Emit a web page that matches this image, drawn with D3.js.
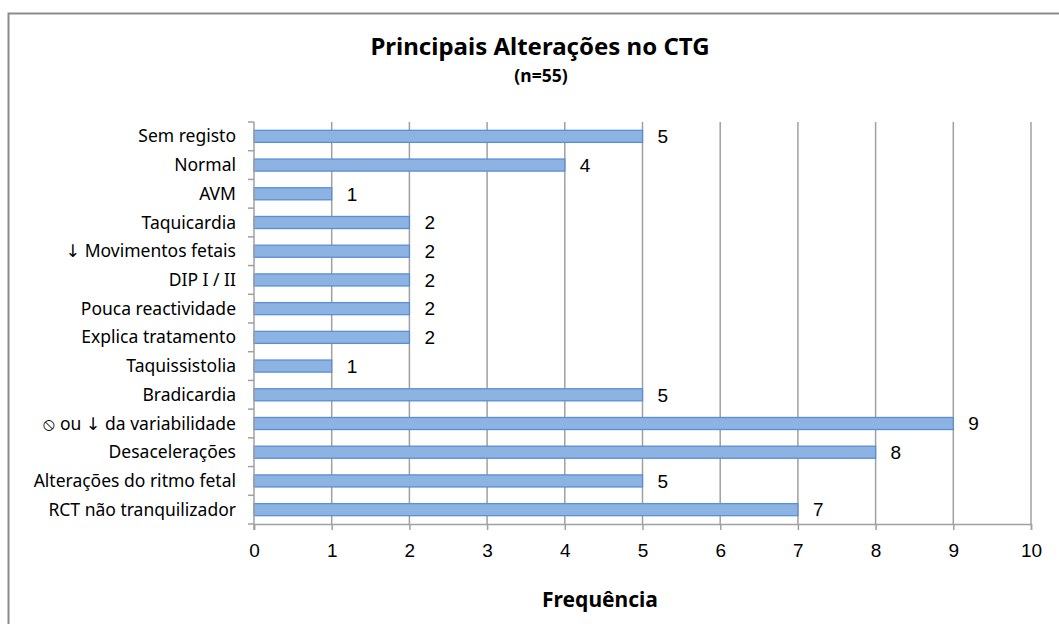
<!DOCTYPE html>
<html>
<head>
<meta charset="utf-8">
<script src="https://cdn.jsdelivr.net/npm/d3@7"></script>
<style>
  html, body { margin: 0; padding: 0; background: #fff; }
  svg { display: block; }
</style>
</head>
<body>
<svg id="chart" width="1059" height="624"></svg>
<script>
// Categories listed top to bottom, with their frequencies
const categories = [
  "Sem registo",
  "Normal",
  "AVM",
  "Taquicardia",
  "↓ Movimentos fetais",
  "DIP I / II",
  "Pouca reactividade",
  "Explica tratamento",
  "Taquissistolia",
  "Bradicardia",
  "⦸ ou ↓ da variabilidade",
  "Desacelerações",
  "Alterações do ritmo fetal",
  "RCT não tranquilizador"
];
const frequencies = [5, 4, 1, 2, 2, 2, 2, 2, 1, 5, 9, 8, 5, 7];
const xTicks = [0, 1, 2, 3, 4, 5, 6, 7, 8, 9, 10];

const titleText = "Principais Alterações no CTG";
const subtitleText = "(n=55)";
const xAxisTitle = "Frequência";

const svg = d3.select("#chart");
const labelFont = "'Noto Sans', 'DejaVu Sans', sans-serif";
const numFont = "'Liberation Sans', Arial, sans-serif";

const plot = { left: 254, right: 1031, top: 122, bottom: 524 };

// Outer frame (only top and left edges fall inside the page)
svg.append("rect")
  .attr("x", 8.5).attr("y", 13.5)
  .attr("width", 1100).attr("height", 700)
  .attr("fill", "none").attr("stroke", "#8c8c8c").attr("stroke-width", 2);

const x = d3.scaleLinear().domain([0, 10]).range([plot.left, plot.right]);
const y = d3.scaleBand().domain(categories).range([plot.top, plot.bottom]).paddingInner(0.58).paddingOuter(0.29);
const yStep = d3.scaleBand().domain(categories).range([plot.top, plot.bottom]);

// Vertical gridlines
svg.append("g").selectAll("line").data(xTicks.slice(1)).join("line")
  .attr("x1", d => x(d)).attr("x2", d => x(d))
  .attr("y1", plot.top).attr("y2", plot.bottom)
  .attr("stroke", "#a0a0a0").attr("stroke-width", 1.5);

// Bars
svg.append("g").selectAll("rect").data(categories).join("rect")
  .attr("x", x(0))
  .attr("y", d => y(d))
  .attr("width", (d, i) => x(frequencies[i]) - x(0))
  .attr("height", y.bandwidth())
  .attr("fill", "#8db3e2")
  .attr("stroke", "#5a8ed6")
  .attr("stroke-width", 1.3);

// Value labels
svg.append("g").selectAll("text").data(categories).join("text")
  .attr("x", (d, i) => x(frequencies[i]) + 15)
  .attr("y", d => y(d) + y.bandwidth() / 2)
  .attr("dy", "0.36em")
  .attr("font-family", numFont)
  .attr("font-size", 19)
  .attr("fill", "#000")
  .text((d, i) => frequencies[i]);

// X axis
const xAxis = d3.axisBottom(x).tickValues(xTicks).tickSize(6).tickPadding(14).tickFormat(d3.format("d"));
const gx = svg.append("g").attr("transform", `translate(0,${plot.bottom})`).call(xAxis);
gx.select(".domain").attr("stroke", "#a0a0a0").attr("stroke-width", 1.5);
gx.selectAll(".tick line").attr("stroke", "#a0a0a0").attr("stroke-width", 1.5);
gx.selectAll(".tick text").attr("font-family", numFont).attr("font-size", 19).attr("fill", "#000");

// Y axis line with ticks between categories
const gy = svg.append("g");
gy.append("line")
  .attr("x1", plot.left).attr("x2", plot.left)
  .attr("y1", plot.top).attr("y2", plot.bottom + 6)
  .attr("stroke", "#a0a0a0").attr("stroke-width", 1.5);
const boundaries = categories.map(c => yStep(c)).concat([plot.bottom]);
gy.selectAll("line.tk").data(boundaries).join("line")
  .attr("class", "tk")
  .attr("x1", plot.left - 6).attr("x2", plot.left)
  .attr("y1", d => d).attr("y2", d => d)
  .attr("stroke", "#a0a0a0").attr("stroke-width", 1.5);

// Category labels
svg.append("g").selectAll("text").data(categories).join("text")
  .attr("x", plot.left - 18)
  .attr("y", d => yStep(d) + yStep.bandwidth() / 2)
  .attr("dy", "0.35em")
  .attr("text-anchor", "end")
  .attr("font-family", labelFont)
  .attr("font-size", 17.5)
  .attr("fill", "#000")
  .text(d => d);

// Titles
svg.append("text")
  .attr("x", 540).attr("y", 55)
  .attr("text-anchor", "middle")
  .attr("font-family", labelFont)
  .attr("font-weight", "bold")
  .attr("font-size", 24)
  .text(titleText);
svg.append("text")
  .attr("x", 541).attr("y", 82)
  .attr("text-anchor", "middle")
  .attr("font-family", labelFont)
  .attr("font-weight", "bold")
  .attr("font-size", 17.5)
  .text(subtitleText);
svg.append("text")
  .attr("x", 600).attr("y", 607)
  .attr("text-anchor", "middle")
  .attr("font-family", labelFont)
  .attr("font-weight", "bold")
  .attr("font-size", 21)
  .text(xAxisTitle);
</script>
</body>
</html>
